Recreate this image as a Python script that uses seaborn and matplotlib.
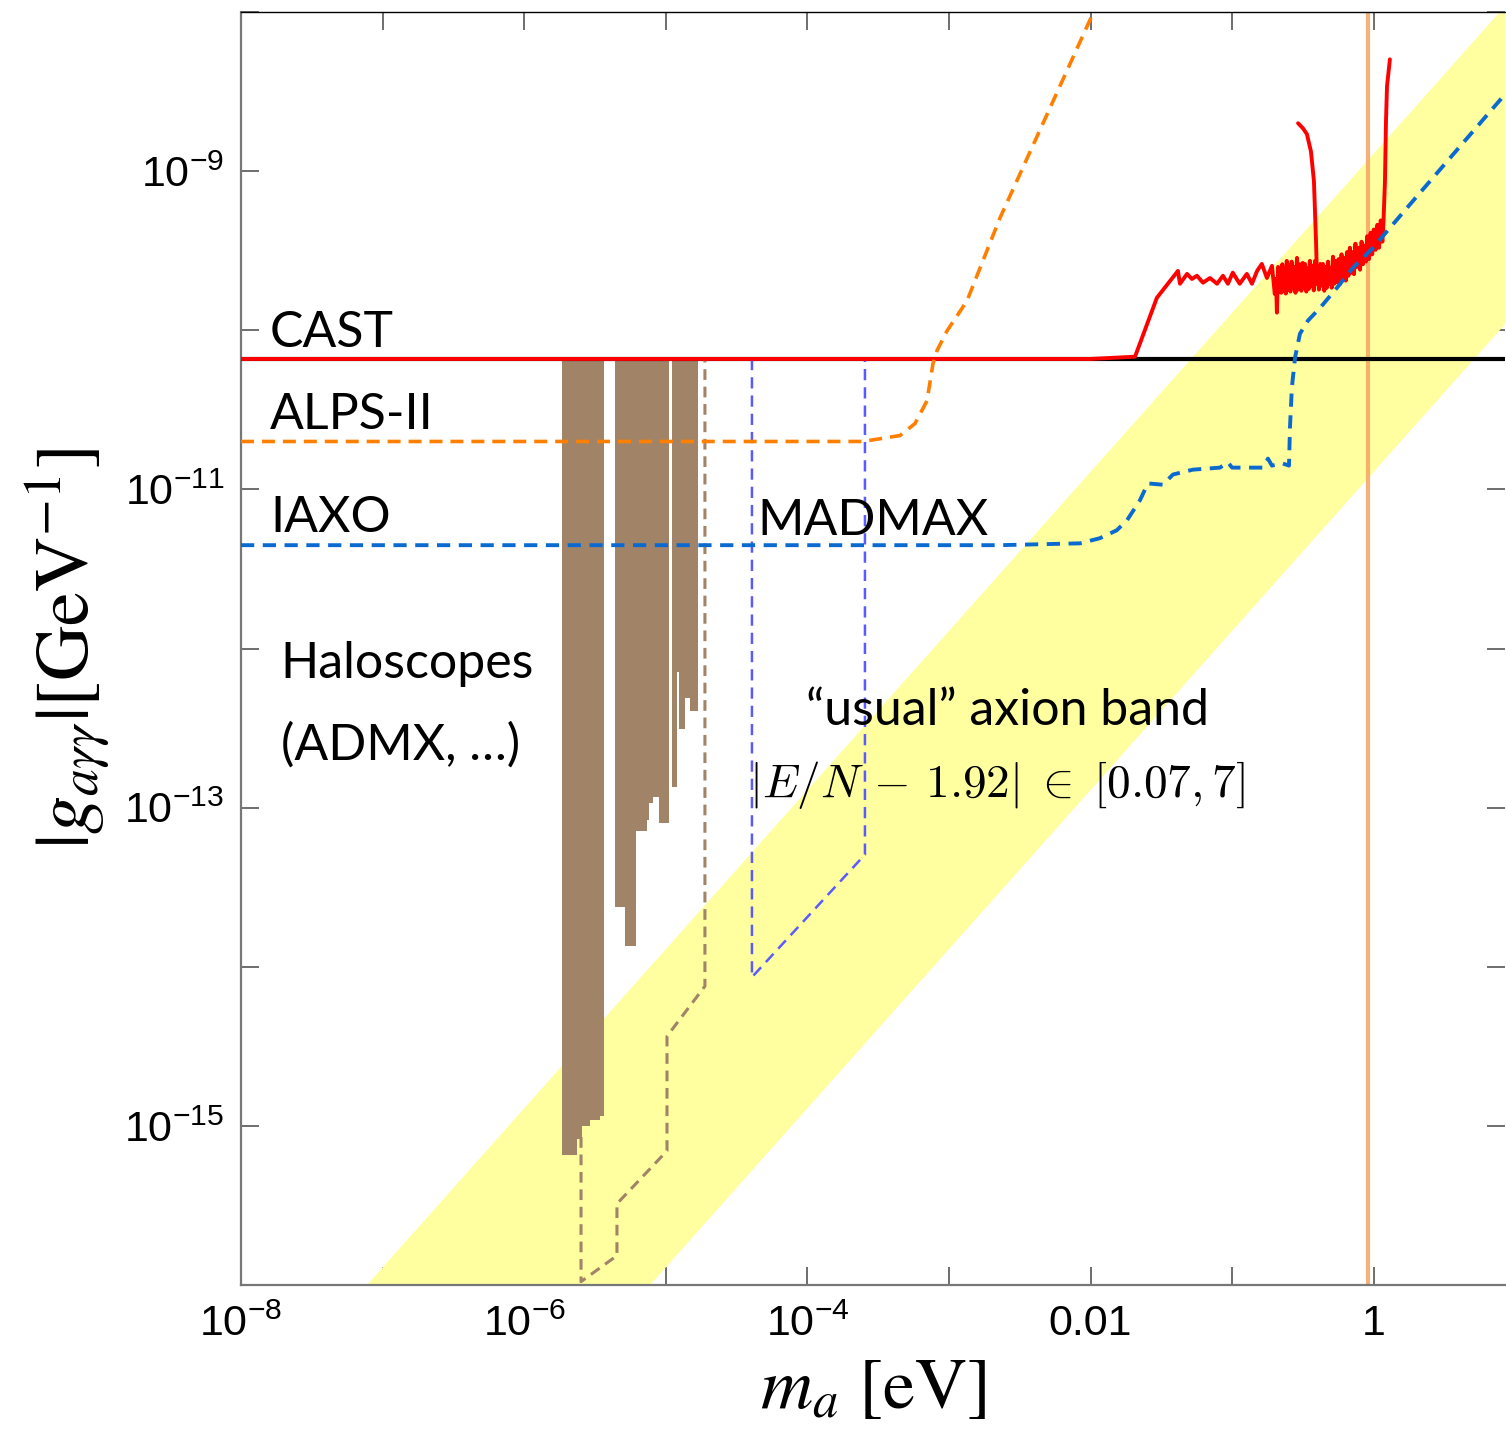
import numpy as np
import pandas as pd
import matplotlib.pyplot as plt
import seaborn as sns

# ---------------- data ----------------
x_min, x_max = 1e-8, 8.45
y_min, y_max = 1e-16, 1e-8

cast_limit = 6.6e-11

# CAST bound (flat part + measured high-mass part)
cast_m = [1e-8, 9.9e-3, 2.06e-2, 2.94e-2, 4.14e-2, 4.28e-2, 4.80e-2, 5.20e-2, 5.64e-2,
          6.22e-2, 6.97e-2, 7.82e-2, 8.61e-2, 9.33e-2, 0.101, 0.113, 0.127, 0.138,
          0.150, 0.162, 0.176, 0.191,
          0.200, 0.204, 0.207, 0.211, 0.215, 0.218, 0.222, 0.226, 0.229, 0.234,
          0.239, 0.243, 0.248, 0.253, 0.258, 0.263, 0.269, 0.274, 0.280, 0.287,
          0.293, 0.301, 0.308, 0.315, 0.321, 0.327, 0.334, 0.341, 0.348, 0.354,
          0.362, 0.370, 0.377, 0.385, 0.393, 0.401, 0.410, 0.419, 0.428, 0.438,
          0.447, 0.456, 0.466, 0.475, 0.485, 0.495, 0.505, 0.515, 0.527, 0.540,
          0.552, 0.565, 0.578, 0.592, 0.605, 0.620, 0.634, 0.647, 0.662, 0.678,
          0.693, 0.710, 0.725, 0.742, 0.760, 0.780, 0.800, 0.820, 0.840, 0.860,
          0.880, 0.900, 0.925, 0.950, 0.975, 1.00, 1.03, 1.06, 1.09, 1.12,
          1.15, 1.17, 1.20, 1.22, 1.24, 1.30]
cast_g = [6.6e-11, 6.6e-11, 6.82e-11, 1.60e-10, 2.36e-10, 1.96e-10, 2.26e-10, 2.10e-10,
          2.20e-10, 1.99e-10, 2.13e-10, 1.96e-10, 2.20e-10, 1.96e-10, 2.30e-10,
          1.96e-10, 2.26e-10, 1.96e-10, 2.36e-10, 2.61e-10, 2.13e-10, 2.54e-10,
          1.69e-10, 2.10e-10, 1.29e-10, 2.50e-10, 1.75e-10, 2.36e-10, 1.72e-10, 2.60e-10,
          1.77e-10, 2.45e-10, 1.70e-10, 2.73e-10, 1.80e-10, 2.55e-10, 1.75e-10, 2.70e-10,
          1.85e-10, 2.50e-10, 1.72e-10, 2.85e-10, 1.80e-10, 2.60e-10, 1.77e-10, 2.65e-10,
          1.85e-10, 2.61e-10, 1.75e-10, 2.45e-10, 1.82e-10, 2.73e-10, 1.90e-10, 2.55e-10,
          1.78e-10, 2.73e-10, 1.96e-10, 2.40e-10, 1.80e-10, 2.61e-10, 1.90e-10, 2.61e-10,
          1.77e-10, 2.50e-10, 1.85e-10, 2.70e-10, 1.95e-10, 2.47e-10, 1.85e-10, 2.90e-10,
          1.96e-10, 2.73e-10, 2.00e-10, 2.80e-10, 1.95e-10, 3.00e-10, 2.10e-10, 2.85e-10,
          2.05e-10, 3.10e-10, 2.20e-10, 3.30e-10, 2.30e-10, 3.10e-10, 2.25e-10, 3.50e-10,
          2.50e-10, 3.30e-10, 2.40e-10, 3.60e-10, 2.60e-10, 3.40e-10, 2.70e-10, 3.90e-10,
          2.80e-10, 4.10e-10, 3.00e-10, 4.30e-10, 3.20e-10, 4.60e-10, 3.30e-10, 4.90e-10,
          3.60e-10, 4.70e-10, 8.65e-10, 2.06e-9, 3.41e-9, 5.04e-9]

# CAST spike near 0.3-0.4 eV
spike_m = [0.292, 0.316, 0.337, 0.360, 0.378, 0.391, 0.397]
spike_g = [2.0e-9, 1.86e-9, 1.71e-9, 1.33e-9, 8.65e-10, 3.64e-10, 2.20e-10]

# ALPS-II
alps_m = [1e-8, 2.47e-4, 4.51e-4, 5.75e-4, 7.0e-4, 7.71e-4, 8.22e-4, 9.68e-4, 1.34e-3,
          2.29e-3, 1.04e-2, 1.2e-2]
alps_g = [2.0e-11, 2.0e-11, 2.18e-11, 2.59e-11, 3.61e-11, 6.17e-11, 7.43e-11, 9.9e-11,
          1.53e-10, 5.07e-10, 9.8e-9, 1.3e-8]

# IAXO
iaxo_m = [1e-8, 2.29e-3, 8.4e-3, 1.16e-2, 1.53e-2, 1.81e-2, 2.23e-2, 2.54e-2, 3.24e-2,
          3.82e-2, 5.28e-2, 8.2e-2, 9.33e-2, 9.98e-2, 0.165, 0.179, 0.191, 0.225,
          0.252, 0.256, 0.264, 0.278, 0.301, 0.343, 0.417, 0.550, 0.713, 0.986,
          1.30, 1.89, 8.45]
iaxo_g = [4.46e-12, 4.46e-12, 4.58e-12, 4.93e-12, 5.53e-12, 6.40e-12, 8.53e-12,
          1.09e-11, 1.07e-11, 1.24e-11, 1.33e-11, 1.37e-11, 1.48e-11, 1.37e-11,
          1.37e-11, 1.56e-11, 1.41e-11, 1.46e-11, 1.41e-11, 2.45e-11, 4.36e-11,
          6.73e-11, 9.5e-11, 1.15e-10, 1.38e-10, 1.85e-10, 2.47e-10, 3.29e-10,
          4.40e-10, 6.49e-10, 3.04e-9]

# MADMAX
madmax_m = [4.06e-5, 4.06e-5, 2.55e-4, 2.55e-4]
madmax_g = [6.6e-11, 8.6e-15, 5.07e-14, 6.6e-11]

# projected haloscope reach (brown dashed)
halo_proj_m = [2.52e-6, 2.52e-6, 4.52e-6, 4.52e-6, 1.02e-5, 1.02e-5, 1.89e-5, 1.89e-5]
halo_proj_g = [8.5e-16, 1.05e-16, 1.53e-16, 3.24e-16, 6.97e-16, 3.66e-15, 7.55e-15, 6.6e-11]

# existing haloscope exclusions: mass bins and lower coupling edge
halo_lo = [1.85e-6, 2.36e-6, 2.56e-6, 2.92e-6, 3.43e-6,
           4.38e-6, 5.15e-6, 6.17e-6, 7.36e-6, 7.60e-6, 8.13e-6, 8.96e-6,
           1.11e-5, 1.20e-5, 1.24e-5, 1.37e-5, 1.48e-5]
halo_hi = [2.36e-6, 2.56e-6, 2.92e-6, 3.43e-6, 3.66e-6,
           5.15e-6, 6.17e-6, 7.36e-6, 7.60e-6, 8.13e-6, 8.96e-6, 1.05e-5,
           1.20e-5, 1.24e-5, 1.37e-5, 1.48e-5, 1.69e-5]
halo_gmin = [6.6e-16, 8.3e-16, 1.0e-15, 1.09e-15, 1.16e-15,
             2.36e-14, 1.36e-14, 7.08e-14, 8.41e-14, 1.07e-13, 1.17e-13, 8.05e-14,
             1.35e-13, 7.12e-13, 3.13e-13, 4.90e-13, 4.06e-13]

# QCD axion band edges (|E/N - 1.92| = 7 and 0.07)
band_m = [1e-9, 20.0]
band_hi = [1.29e-18, 2.58e-8]
band_lo = [1.29e-20, 2.58e-10]

m_line = 0.91  # vertical line

# ---------------- plotting ----------------
sns.set_theme(style="ticks")
plt.rcParams["font.family"] = ["Lato", "DejaVu Sans"]
plt.rcParams["text.color"] = "black"
plt.rcParams["axes.labelcolor"] = "black"
plt.rcParams["xtick.color"] = "black"
plt.rcParams["ytick.color"] = "black"
plt.rcParams["mathtext.fontset"] = "custom"
plt.rcParams["mathtext.rm"] = "Liberation Sans"
plt.rcParams["mathtext.it"] = "Liberation Sans:italic"
plt.rcParams["mathtext.bf"] = "Liberation Sans:bold"

fig = plt.figure(figsize=(15.06, 14.31), dpi=100)
ax = fig.add_axes([241 / 1506, 146 / 1431, 1264 / 1506, 1273 / 1431])
ax.set_xscale("log")
ax.set_yscale("log")

# yellow axion band
ax.fill_between(band_m, band_lo, band_hi, color="#ffffa0", lw=0, zorder=1)

# haloscope exclusion
for lo, hi, gm in zip(halo_lo, halo_hi, halo_gmin):
    ax.fill_between([lo, hi], [gm, gm], [cast_limit, cast_limit],
                    color="#a18367", lw=0, zorder=2)

ax.axvline(m_line, color="#f4a460", lw=3, alpha=0.85, zorder=2.5)


def draw(m, g, color, lw, ls="-", z=3):
    df = pd.DataFrame({"m": m, "g": g})
    sns.lineplot(data=df, x="m", y="g", ax=ax, sort=False, estimator=None,
                 color=color, lw=lw, linestyle=ls, zorder=z)


draw([x_min, x_max], [cast_limit, cast_limit], "black", 3.0, z=3)
draw(cast_m, cast_g, "#ff0000", 2.8, z=4)
draw(spike_m, spike_g, "#ff0000", 2.8, z=4)
draw(halo_proj_m, halo_proj_g, "#a18367", 2.2, (0, (3.5, 2.2)), z=3)
draw(madmax_m, madmax_g, "#5a5aff", 1.8, (0, (4.5, 2.8)), z=3)
draw(alps_m, alps_g, "#ff8000", 2.6, (0, (3.6, 2.2)), z=5)
draw(iaxo_m, iaxo_g, "#0a6ad0", 2.8, (0, (3.4, 2.2)), z=5)

ax.set_xlim(x_min, x_max)
ax.set_ylim(y_min, y_max)

# ticks
xt = [10.0 ** k for k in range(-8, 1)]
xl = [r"$10^{-8}$", "", r"$10^{-6}$", "", r"$10^{-4}$", "", "0.01", "", "1"]
yt = [10.0 ** k for k in range(-16, -7)]
yl = ["", r"$10^{-15}$", "", r"$10^{-13}$", "", r"$10^{-11}$", "", r"$10^{-9}$", ""]
ax.set_xticks(xt)
ax.set_xticklabels(xl, fontfamily="Liberation Sans", fontsize=31)
ax.set_yticks(yt)
ax.set_yticklabels(yl, fontfamily="Liberation Sans", fontsize=31)
ax.minorticks_off()
ax.tick_params(axis="both", which="major", direction="in", length=13, width=1.2,
               top=True, right=True, color="#555555")
ax.tick_params(axis="x", pad=14)
ax.tick_params(axis="y", pad=12)

for s in ["left", "bottom"]:
    ax.spines[s].set_color("#777777")
    ax.spines[s].set_linewidth(1.6)
ax.spines["top"].set_color("black")
ax.spines["top"].set_linewidth(1.0)
ax.spines["right"].set_visible(False)
ax.grid(False)

ax.set_xlabel(r"$m_a\ [\mathrm{eV}]$", fontsize=52, math_fontfamily="stix")
ax.xaxis.set_label_coords(0.5, -0.056)
ax.set_ylabel(r"$|g_{a\gamma\gamma}|[\mathrm{GeV}^{-1}]$", fontsize=55,
              math_fontfamily="stix")
ax.yaxis.set_label_coords(-0.102, 0.5)

# annotations
lab = dict(fontsize=36, color="black", va="baseline", zorder=6)
ax.text(1.6e-8, 7.9e-11, "CAST", **lab)
ax.text(1.6e-8, 2.41e-11, "ALPS-II", **lab)
ax.text(1.6e-8, 5.37e-12, "IAXO", **lab)
ax.text(4.4e-5, 5.15e-12, "MADMAX", **lab)
ax.text(1.91e-8, 6.53e-13, "Haloscopes", **lab)
ax.text(1.91e-8, 2.0e-13, "(ADMX, …)", **lab)
ax.text(2.57e-3, 3.31e-13, "\u201cusual\u201d axion band", ha="center", **lab)
ax.text(2.2e-3, 1.17e-13, r"$|E/N\,-\,1.92|\;\in\;[0.07, 7]$", ha="center",
        va="baseline", fontsize=34, math_fontfamily="cm", zorder=6)

fig.savefig("out.png", dpi=100)
